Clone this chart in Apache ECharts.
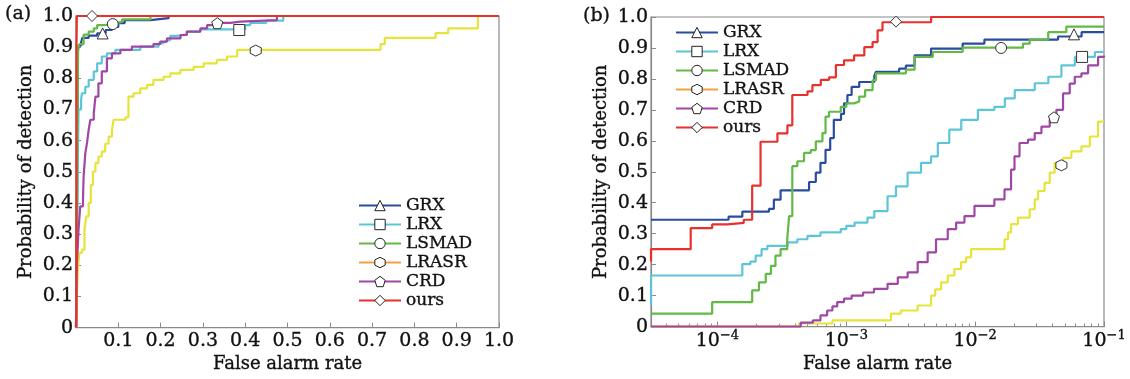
<!DOCTYPE html>
<html>
<head>
<meta charset="utf-8">
<script src="https://cdn.jsdelivr.net/npm/echarts@6/dist/echarts.min.js"></script>
<style>
  html, body { margin: 0; padding: 0; background: #fff; }
  #chart { width: 1130px; height: 379px; }
</style>
</head>
<body>
<div id="chart"></div>
<script>
// series names / colours
var names = ['GRX', 'LRX', 'LSMAD', 'LRASR', 'CRD', 'ours'];
var colors = ['#2a4c9f', '#5cc6d8', '#62b946', '#e6e33a', '#a047a6', '#e8312c'];
var legendOrange = '#f0a33a';

// (a) linear ROC, [false alarm rate, detection probability]
var grxA = [[0, 0], [0.003, 0.5], [0.004, 0.88], [0.006, 0.905], [0.012, 0.915], [0.015, 0.93], [0.03, 0.937], [0.05, 0.944], [0.07, 0.955], [0.085, 0.965], [0.1, 0.977], [0.115, 0.987], [0.176, 0.993], [0.219, 1], [1, 1]];
var lrxA = [[0, 0], [0.003, 0.3], [0.005, 0.6], [0.006, 0.7], [0.012, 0.73], [0.014, 0.752], [0.022, 0.773], [0.03, 0.795], [0.042, 0.822], [0.05, 0.848], [0.061, 0.87], [0.073, 0.88], [0.093, 0.891], [0.152, 0.902], [0.195, 0.912], [0.205, 0.918], [0.211, 0.923], [0.223, 0.936], [0.239, 0.94], [0.262, 0.95], [0.294, 0.957], [0.4, 0.971], [0.412, 0.978], [0.45, 0.985], [0.49, 1], [1, 1]];
var lsmadA = [[0, 0], [0.003, 0.6], [0.005, 0.896], [0.008, 0.91], [0.018, 0.94], [0.03, 0.95], [0.042, 0.96], [0.05, 0.971], [0.069, 0.977], [0.097, 0.982], [0.109, 0.989], [0.176, 1], [1, 1]];
var lrasrA = [[0, 0], [0.002, 0.1], [0.004, 0.18], [0.008, 0.24], [0.014, 0.25], [0.02, 0.314], [0.024, 0.357], [0.03, 0.4], [0.035, 0.458], [0.04, 0.501], [0.046, 0.528], [0.053, 0.549], [0.061, 0.565], [0.069, 0.59], [0.077, 0.613], [0.085, 0.635], [0.089, 0.667], [0.117, 0.675], [0.124, 0.741], [0.136, 0.752], [0.152, 0.768], [0.168, 0.779], [0.183, 0.795], [0.207, 0.805], [0.223, 0.816], [0.247, 0.827], [0.278, 0.837], [0.302, 0.848], [0.333, 0.859], [0.357, 0.87], [0.381, 0.891], [0.72, 0.91], [0.73, 0.93], [0.85, 0.945], [0.88, 0.96], [0.95, 1], [1, 1]];
var crdA = [[0, 0], [0.002, 0.2], [0.006, 0.314], [0.01, 0.389], [0.0165, 0.41], [0.018, 0.485], [0.022, 0.56], [0.026, 0.592], [0.03, 0.635], [0.034, 0.667], [0.042, 0.688], [0.046, 0.741], [0.053, 0.784], [0.061, 0.822], [0.073, 0.864], [0.085, 0.88], [0.105, 0.891], [0.132, 0.902], [0.183, 0.91], [0.199, 0.918], [0.215, 0.928], [0.247, 0.939], [0.262, 0.95], [0.294, 0.96], [0.31, 0.971], [0.341, 0.978], [0.365, 0.982], [0.389, 0.987], [0.475, 1], [1, 1]];
var oursA = [[0.001, 0], [0.001, 0.9], [0.002, 1], [1, 1]];
// one marker per curve
var marksA = [[0.063, 0.944], [0.386, 0.955], [0.087, 0.974], [0.425, 0.889], [0.334, 0.977], [0.038, 1.0]];

// (b) log-x ROC
var grxB = [[3.05e-5, 0.345], [1.22e-4, 0.355], [1.56e-4, 0.371], [2.51e-4, 0.38], [2.74e-4, 0.41], [3.09e-4, 0.44], [5.14e-4, 0.467], [5.8e-4, 0.497], [6.3e-4, 0.529], [6.9e-4, 0.571], [7.5e-4, 0.609], [8.0e-4, 0.668], [9.1e-4, 0.687], [9.6e-4, 0.721], [1.02e-3, 0.748], [1.1e-3, 0.774], [1.26e-3, 0.79], [1.65e-3, 0.81], [1.7e-3, 0.823], [2.57e-3, 0.833], [2.9e-3, 0.843], [3.39e-3, 0.876], [4.55e-3, 0.898], [8.0e-3, 0.914], [1.18e-2, 0.927], [4.4e-2, 0.937], [6.7e-2, 0.951], [0.1, 0.951]];
var lrxB = [[3.05e-5, 0.07], [3.05e-5, 0.165], [1.56e-4, 0.202], [1.8e-4, 0.21], [1.98e-4, 0.229], [2.2e-4, 0.25], [2.44e-4, 0.261], [3.5e-4, 0.272], [4.17e-4, 0.282], [5.0e-4, 0.293], [6.3e-4, 0.304], [9.06e-4, 0.315], [1.0e-3, 0.325], [1.16e-3, 0.336], [1.46e-3, 0.352], [1.65e-3, 0.373], [2.09e-3, 0.421], [2.43e-3, 0.453], [2.99e-3, 0.497], [3.8e-3, 0.529], [4.55e-3, 0.55], [5.13e-3, 0.593], [6.3e-3, 0.636], [7.8e-3, 0.668], [1.05e-2, 0.7], [1.41e-2, 0.71], [1.7e-2, 0.737], [2.03e-2, 0.764], [2.9e-2, 0.786], [3.7e-2, 0.807], [4.67e-2, 0.844], [5.94e-2, 0.871], [8.5e-2, 0.887], [0.1, 0.887]];
var lsmadB = [[3.05e-5, 0.042], [9.1e-5, 0.079], [1.86e-4, 0.117], [2.1e-4, 0.143], [2.37e-4, 0.17], [2.6e-4, 0.196], [2.82e-4, 0.229], [3.09e-4, 0.25], [3.48e-4, 0.282], [3.6e-4, 0.357], [3.81e-4, 0.518], [4.17e-4, 0.534], [4.7e-4, 0.561], [5.3e-4, 0.57], [5.8e-4, 0.598], [6.53e-4, 0.625], [6.9e-4, 0.678], [7.35e-4, 0.694], [9.06e-4, 0.71], [1.0e-3, 0.721], [1.15e-3, 0.727], [1.26e-3, 0.743], [1.4e-3, 0.764], [1.6e-3, 0.796], [1.7e-3, 0.818], [2.9e-3, 0.83], [3.39e-3, 0.871], [4.69e-3, 0.887], [8.0e-3, 0.901], [2.35e-2, 0.914], [2.65e-2, 0.927], [3.69e-2, 0.951], [5.1e-2, 0.969], [0.1, 0.969]];
var lrasrB = [[3.05e-5, 0], [4.3e-4, 0.01], [7.8e-4, 0.02], [2.22e-3, 0.042], [2.65e-3, 0.052], [3.58e-3, 0.068], [4.55e-3, 0.1], [4.9e-3, 0.12], [5.44e-3, 0.143], [6.13e-3, 0.165], [6.9e-3, 0.186], [7.78e-3, 0.208], [8.5e-3, 0.224], [9.3e-3, 0.25], [1.69e-2, 0.282], [1.8e-2, 0.304], [1.9e-2, 0.331], [2.15e-2, 0.352], [2.65e-2, 0.379], [2.9e-2, 0.411], [3.08e-2, 0.438], [3.46e-2, 0.464], [3.79e-2, 0.497], [4.14e-2, 0.529], [4.81e-2, 0.545], [5.58e-2, 0.566], [6.68e-2, 0.582], [7.76e-2, 0.614], [9.0e-2, 0.662], [0.1, 0.662]];
var crdB = [[3.05e-5, 0], [4.43e-4, 0.013], [5.5e-4, 0.02], [6.3e-4, 0.036], [7.1e-4, 0.052], [7.8e-4, 0.065], [8.5e-4, 0.079], [9.6e-4, 0.09], [1.1e-3, 0.1], [1.35e-3, 0.11], [1.64e-3, 0.122], [2.09e-3, 0.138], [2.51e-3, 0.159], [2.99e-3, 0.175], [3.58e-3, 0.208], [4.28e-3, 0.24], [4.97e-3, 0.282], [6.13e-3, 0.315], [7.12e-3, 0.336], [8.26e-3, 0.357], [9.88e-3, 0.39], [1.41e-2, 0.411], [1.69e-2, 0.443], [1.9e-2, 0.507], [2.02e-2, 0.55], [2.21e-2, 0.593], [2.57e-2, 0.604], [2.9e-2, 0.625], [3.27e-2, 0.646], [3.79e-2, 0.668], [4.27e-2, 0.7], [4.81e-2, 0.753], [5.42e-2, 0.785], [5.93e-2, 0.807], [6.68e-2, 0.818], [7.53e-2, 0.844], [9.0e-2, 0.871], [0.1, 0.876]];
var oursB = [[3.05e-5, 0.21], [3.05e-5, 0.25], [6.2e-5, 0.318], [9.1e-5, 0.33], [1.2e-4, 0.335], [1.6e-4, 0.345], [1.86e-4, 0.455], [2.16e-4, 0.597], [2.92e-4, 0.624], [3.49e-4, 0.65], [3.81e-4, 0.748], [5.0e-4, 0.76], [5.46e-4, 0.78], [6.34e-4, 0.797], [7.35e-4, 0.805], [8.3e-4, 0.845], [9.6e-4, 0.86], [1.15e-3, 0.876], [1.38e-3, 0.903], [1.6e-3, 0.919], [1.75e-3, 0.957], [1.91e-3, 0.983], [4.55e-3, 1.0], [0.1, 1.0]];
var marksB = [[5.85e-2, 0.944], [6.76e-2, 0.871], [1.59e-2, 0.90], [4.67e-2, 0.521], [4.09e-2, 0.676], [2.43e-3, 0.985]];

var xMinB = 3.05e-5, xMaxB = 0.1;
var logTicks = [-4, -3, -2, -1];

// marker shapes
var hexagon = 'path://M0,-1L0.866,-0.5L0.866,0.5L0,1L-0.866,0.5L-0.866,-0.5Z';
var pentagon = 'path://M0,-1L0.951,-0.309L0.588,0.809L-0.588,0.809L-0.951,-0.309Z';
var symbols = ['triangle', 'rect', 'circle', hexagon, pentagon, 'diamond'];

var FONT = 'DejaVu Serif';
var INK = '#111';
var frame = '#8a8a8a';

function lg(p) { return [Math.log10(p[0]), p[1]]; }

// minor log ticks 2..9 x 10^k
var minorTicks = [];
for (var e = -5; e <= -2; e++) {
    for (var k = 2; k <= 9; k++) {
        var v = Math.log10(k * Math.pow(10, e));
        if (v > Math.log10(xMinB) && v < Math.log10(xMaxB)) minorTicks.push(v);
    }
}

function mkSeries(i, pts, mark, axis, logx) {
    return {
        name: names[i], type: 'line', step: 'end',
        xAxisIndex: axis, yAxisIndex: axis,
        data: logx ? pts.map(lg) : pts,
        symbol: symbols[i], showSymbol: false, symbolSize: 11,
        lineStyle: { color: colors[i], width: 2.2 },
        itemStyle: { color: colors[i] },
        z: 2 + i, silent: true,
        markPoint: {
            z: 20, silent: true,
            symbol: symbols[i], symbolSize: 11,
            itemStyle: { color: '#fff', borderColor: '#333', borderWidth: 1 },
            label: { show: false },
            data: [{ coord: logx ? lg(mark) : mark }]
        }
    };
}

var setsA = [grxA, lrxA, lsmadA, lrasrA, crdA, oursA];
var setsB = [grxB, lrxB, lsmadB, lrasrB, crdB, oursB];
var series = [];
setsA.forEach(function (d, i) { series.push(mkSeries(i, d, marksA[i], 0, false)); });
setsB.forEach(function (d, i) { series.push(mkSeries(i, d, marksB[i], 1, true)); });

// slightly heavier text, the source font is a dark schoolbook serif
function font(size) {
    return { fontFamily: FONT, fontSize: size, color: INK, textBorderColor: INK, textBorderWidth: 0.35 };
}
var lab = font(19);
var ttl = font(18);
var tick = { show: true, inside: true, length: 5, lineStyle: { color: frame, width: 1 } };
var line = { show: true, lineStyle: { color: frame, width: 1.2 } };

function yAx(gi) {
    return {
        type: 'value', gridIndex: gi, min: 0, max: 1, interval: 0.1,
        name: 'Probability of detection', nameLocation: 'middle', nameGap: 41,
        nameTextStyle: ttl,
        axisLine: line, axisTick: tick, splitLine: { show: false },
        axisLabel: Object.assign({ margin: 3, formatter: function (v) { return v === 0 ? '0' : v.toFixed(1); } }, lab)
    };
}

var legendData = names.map(function (n) {
    return n === 'LRASR' ? { name: n, lineStyle: { color: legendOrange } } : n;
});
function mkLegend(left, top) {
    return {
        orient: 'vertical', left: left, top: top, padding: 0, itemGap: 0,
        itemWidth: 42, itemHeight: 13, selectedMode: false,
        data: legendData,
        itemStyle: { color: '#fff', borderColor: '#222', borderWidth: 1 },
        textStyle: Object.assign({ lineHeight: 19 }, font(17))
    };
}

var chart = echarts.init(document.getElementById('chart'), null, { renderer: 'canvas' });
chart.setOption({
    animation: false,
    backgroundColor: '#fff',
    title: [
        { text: '(a)', left: 5, top: 5, padding: 0, textStyle: Object.assign({ fontWeight: 'normal' }, font(19)) },
        { text: '(b)', left: 583, top: 7, padding: 0, textStyle: Object.assign({ fontWeight: 'normal' }, font(19)) }
    ],
    legend: [mkLegend(358, 196), mkLegend(675, 23)],
    grid: [
        { left: 76, top: 16, width: 423, height: 312, show: true, borderColor: frame, borderWidth: 1.2, backgroundColor: 'transparent' },
        { left: 651, top: 17, width: 453, height: 312, show: true, borderColor: frame, borderWidth: 1.2, backgroundColor: 'transparent' }
    ],
    xAxis: [
        {
            type: 'value', gridIndex: 0, min: 0, max: 1, interval: 0.1,
            name: 'False alarm rate', nameLocation: 'middle', nameGap: 18, nameTextStyle: ttl,
            axisLine: line, axisTick: tick, splitLine: { show: false },
            axisLabel: Object.assign({ margin: 4, formatter: function (v) { return v === 0 ? '' : v.toFixed(1); } }, lab)
        },
        {
            type: 'value', gridIndex: 1, min: Math.log10(xMinB), max: Math.log10(xMaxB),
            name: 'False alarm rate', nameLocation: 'middle', nameGap: 26, nameTextStyle: ttl,
            axisLine: line, splitLine: { show: false },
            axisTick: Object.assign({ customValues: logTicks }, tick),
            axisLabel: {
                margin: 3, customValues: logTicks,
                formatter: function (v) { return '{b|10}{s|\u2212' + Math.round(-v) + '}'; },
                rich: {
                    b: font(19),
                    s: Object.assign({ padding: [0, 0, 10, 0] }, font(13))
                }
            }
        },
        {
            // minor ticks only
            type: 'value', gridIndex: 1, position: 'bottom', min: Math.log10(xMinB), max: Math.log10(xMaxB),
            axisLine: { show: false }, splitLine: { show: false }, axisLabel: { show: false },
            axisTick: { show: true, inside: true, length: 3, customValues: minorTicks, lineStyle: { color: frame, width: 1 } }
        }
    ],
    yAxis: [yAx(0), yAx(1)],
    series: series
});
</script>
</body>
</html>
